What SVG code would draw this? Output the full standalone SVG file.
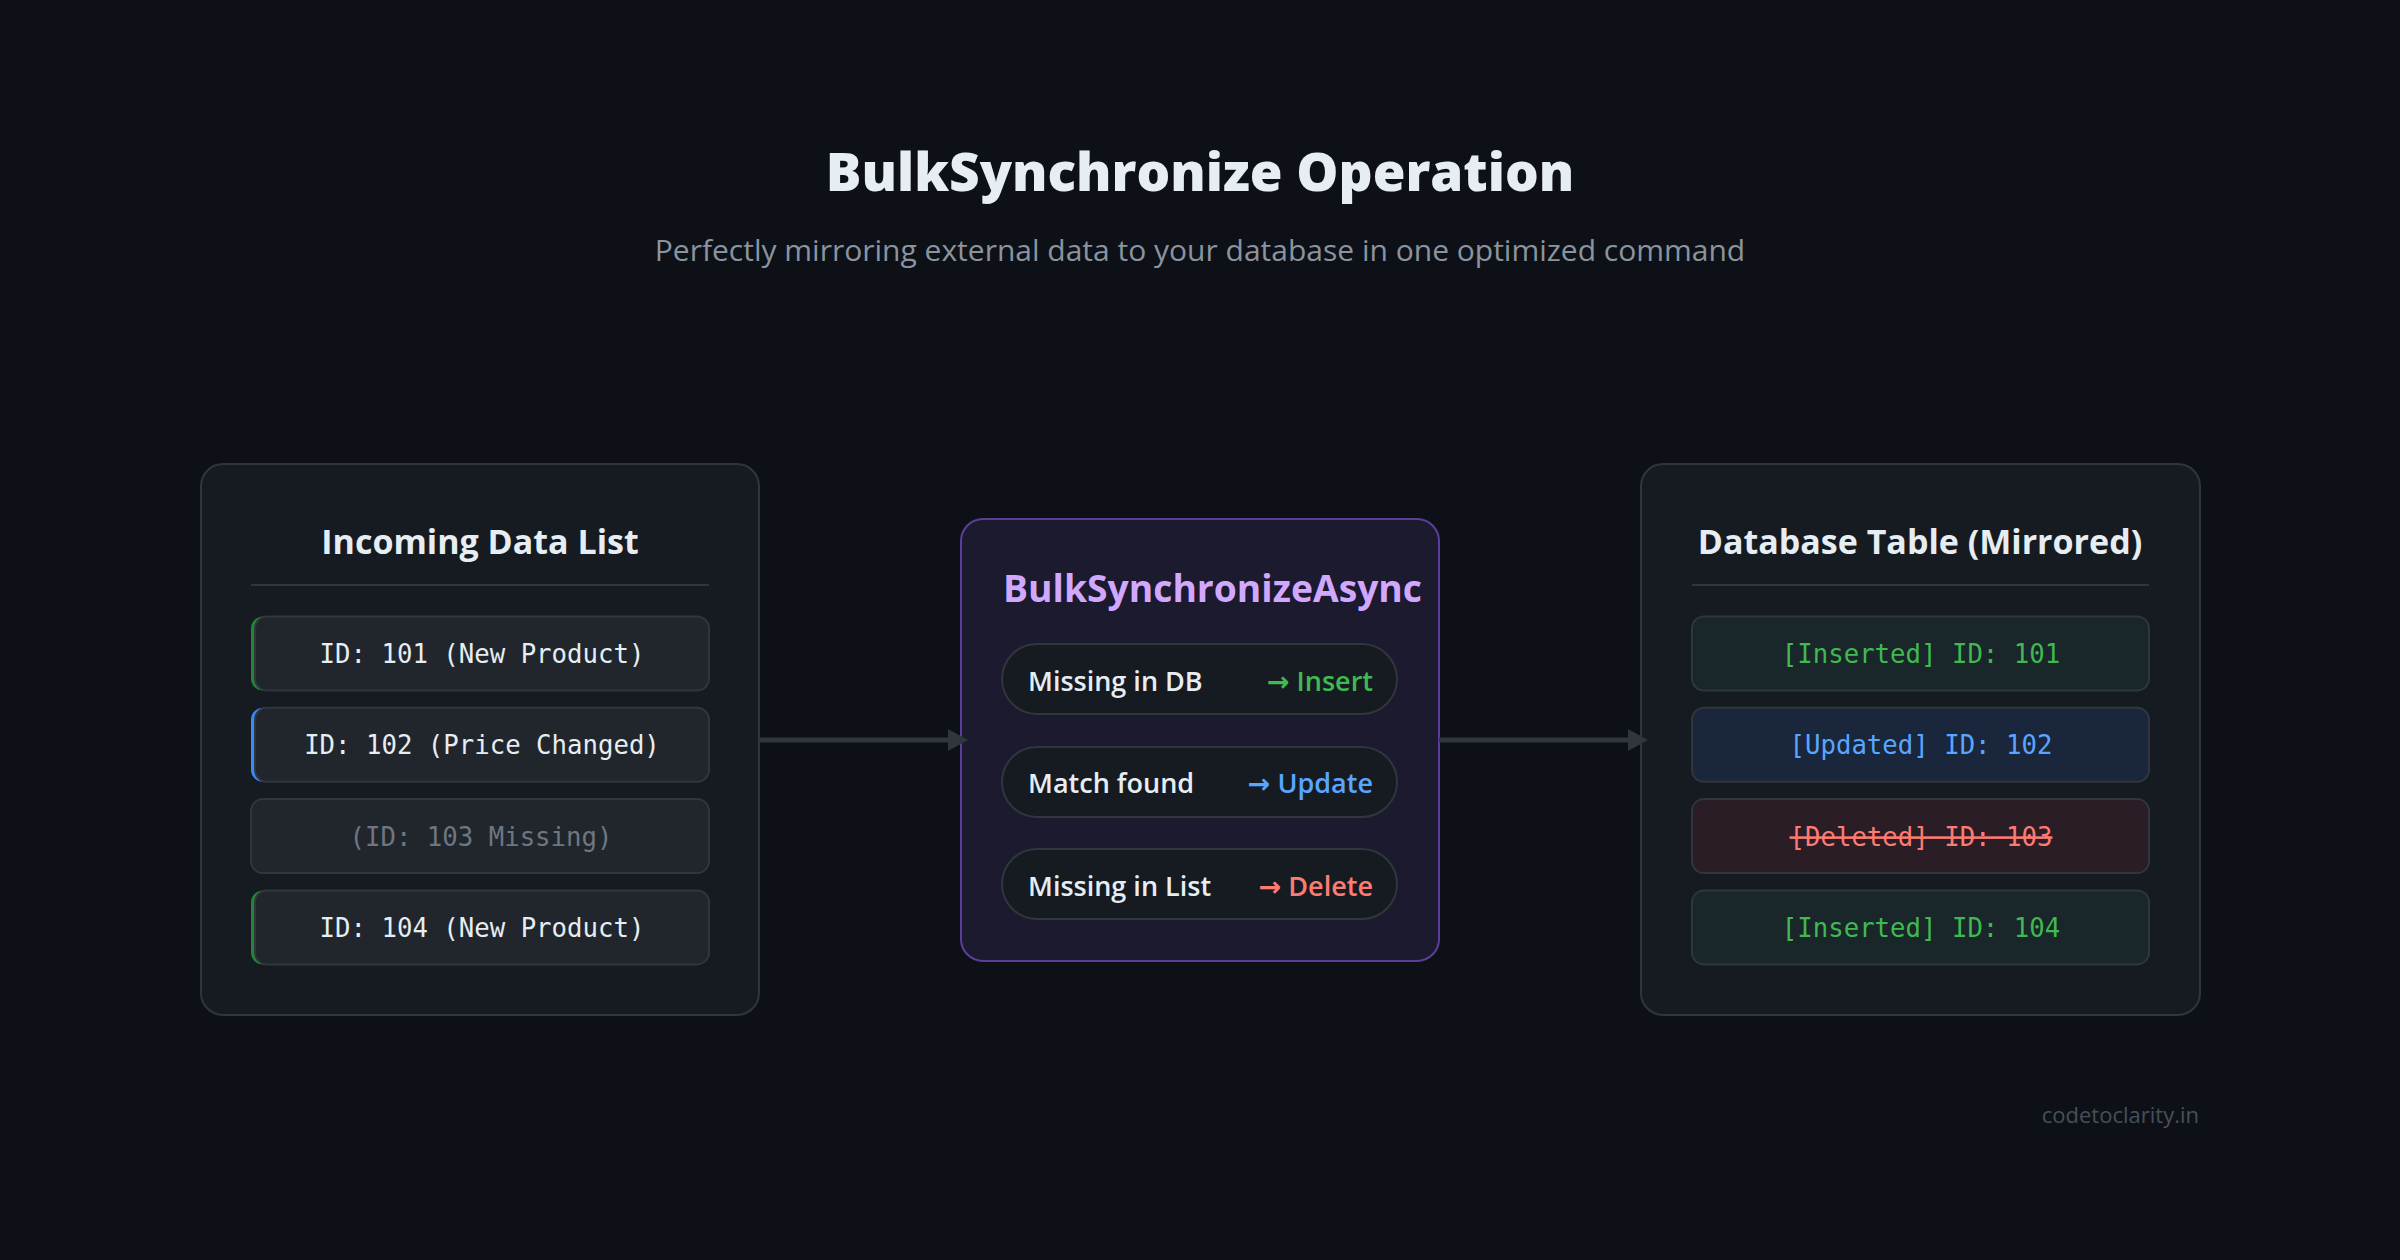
<svg xmlns="http://www.w3.org/2000/svg" width="2400" height="1260" viewBox="0 0 2400 1260">
<defs>
<style>
.sans{font-family:"Open Sans","Noto Sans","DejaVu Sans",sans-serif;}
.mono{font-family:"DejaVu Sans Mono","Liberation Mono",monospace;font-size:25.7px;text-anchor:middle;}
.panel{fill:#161b22;stroke:#30363d;stroke-width:2;}
.ptitle{font-size:34px;font-weight:700;fill:#e6edf3;text-anchor:middle;}
.row{fill:#21262d;stroke:#30363d;stroke-width:2;}
.pill{fill:#161b22;stroke:#30363d;stroke-width:2;}
.plabel{font-size:27px;font-weight:600;fill:#e6edf3;}
.pact{font-size:27px;font-weight:600;text-anchor:end;}
.conn{stroke:#30363d;stroke-width:5;fill:none;}
.head{fill:#30363d;}
</style>
</defs>
<rect x="0" y="0" width="2400" height="1260" fill="#0d1117"/>

<g id="header">
<text class="sans" x="1200" y="191" font-size="53" font-weight="800" fill="#e6edf3" text-anchor="middle">BulkSynchronize Operation</text>
<text class="sans" x="1200" y="261" font-size="30" font-weight="400" fill="#8b949e" text-anchor="middle">Perfectly mirroring external data to your database in one optimized command</text>
</g>

<g id="incoming">
<rect class="panel" x="201" y="464" width="558" height="551" rx="22"/>
<text class="sans ptitle" x="480" y="554">Incoming Data List</text>
<line x1="251" y1="585" x2="709" y2="585" stroke="#30363d" stroke-width="2"/>
<g id="in-101">
<rect x="251" y="616.5" width="458" height="74" rx="12" fill="#238636"/>
<rect class="row" x="255" y="616.5" width="454" height="74" rx="12"/>
<text class="mono" x="482" y="663" fill="#e6edf3">ID: 101 (New Product)</text>
</g>
<g id="in-102">
<rect x="251" y="707.8" width="458" height="74" rx="12" fill="#388bfd"/>
<rect class="row" x="255" y="707.8" width="454" height="74" rx="12"/>
<text class="mono" x="482" y="754.3" fill="#e6edf3">ID: 102 (Price Changed)</text>
</g>
<g id="in-103">
<rect class="row" x="251" y="799.1" width="458" height="74" rx="12"/>
<text class="mono" x="481" y="845.6" fill="#6e7681">(ID: 103 Missing)</text>
</g>
<g id="in-104">
<rect x="251" y="890.4" width="458" height="74" rx="12" fill="#238636"/>
<rect class="row" x="255" y="890.4" width="454" height="74" rx="12"/>
<text class="mono" x="482" y="936.9" fill="#e6edf3">ID: 104 (New Product)</text>
</g>
</g>

<g id="sync">
<rect x="961" y="519" width="478" height="442" rx="22" fill="#1b1a2e" stroke="#5b3e9b" stroke-width="2"/>
<text class="sans" x="1003" y="602" font-size="38" font-weight="700" fill="#d2a8ff" textLength="419" lengthAdjust="spacingAndGlyphs">BulkSynchronizeAsync</text>
<g id="rule-insert">
<rect class="pill" x="1002" y="644" width="395" height="70" rx="35"/>
<text class="sans plabel" x="1028" y="691">Missing in DB</text>
<text class="sans pact" x="1373" y="691" fill="#3fb950">→ Insert</text>
</g>
<g id="rule-update">
<rect class="pill" x="1002" y="747" width="395" height="70" rx="35"/>
<text class="sans plabel" x="1028" y="793">Match found</text>
<text class="sans pact" x="1373" y="793" fill="#58a6ff">→ Update</text>
</g>
<g id="rule-delete">
<rect class="pill" x="1002" y="849" width="395" height="70" rx="35"/>
<text class="sans plabel" x="1028" y="896">Missing in List</text>
<text class="sans pact" x="1373" y="896" fill="#ff7b72">→ Delete</text>
</g>
</g>

<g id="database">
<rect class="panel" x="1641" y="464" width="559" height="551" rx="22"/>
<text class="sans ptitle" x="1920" y="554">Database Table (Mirrored)</text>
<line x1="1692" y1="585" x2="2149" y2="585" stroke="#30363d" stroke-width="2"/>
<g id="db-101">
<rect x="1692" y="616.5" width="457" height="74" rx="12" fill="#19262a" stroke="#30363d" stroke-width="2"/>
<text class="mono" x="1921" y="663" fill="#3fb950">[Inserted] ID: 101</text>
</g>
<g id="db-102">
<rect x="1692" y="707.8" width="457" height="74" rx="12" fill="#1a263b" stroke="#30363d" stroke-width="2"/>
<text class="mono" x="1921" y="754.3" fill="#58a6ff">[Updated] ID: 102</text>
</g>
<g id="db-103">
<rect x="1692" y="799.1" width="457" height="74" rx="12" fill="#2a1d25" stroke="#30363d" stroke-width="2"/>
<text class="mono" x="1921" y="845.6" fill="#ff7b72" text-decoration="line-through">[Deleted] ID: 103</text>
</g>
<g id="db-104">
<rect x="1692" y="890.4" width="457" height="74" rx="12" fill="#19262a" stroke="#30363d" stroke-width="2"/>
<text class="mono" x="1921" y="936.9" fill="#3fb950">[Inserted] ID: 104</text>
</g>
</g>

<g id="connectors">
<line class="conn" x1="759" y1="740" x2="950" y2="740"/>
<polygon class="head" points="948,729 968,740 948,751"/>
<line class="conn" x1="1439" y1="740" x2="1630" y2="740"/>
<polygon class="head" points="1628,729 1648,740 1628,751"/>
</g>

<text id="watermark" class="sans" x="2199" y="1123" font-size="22" fill="#484f58" text-anchor="end">codetoclarity.in</text>
</svg>
